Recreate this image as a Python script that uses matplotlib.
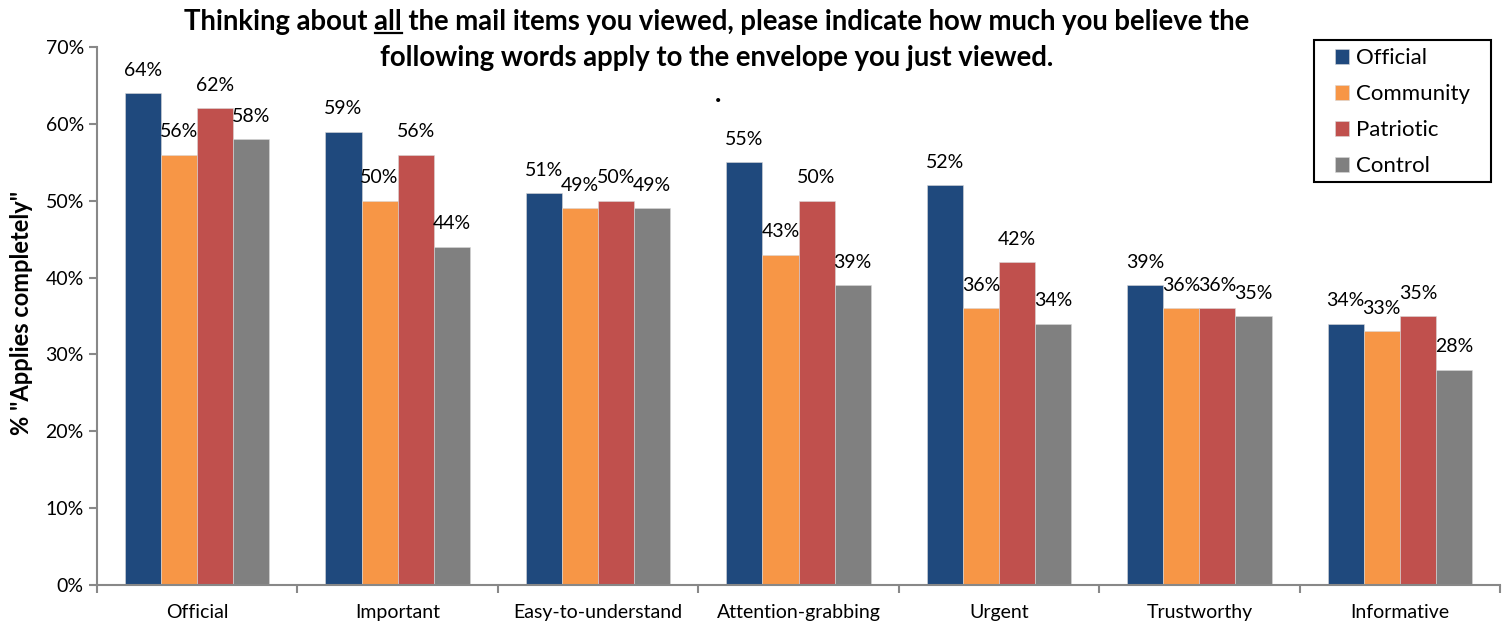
import matplotlib
matplotlib.use("Agg")
import matplotlib.pyplot as plt
import numpy as np
from matplotlib.lines import Line2D
from matplotlib.patches import Rectangle
from matplotlib.ticker import FixedLocator, PercentFormatter

categories = ["Official", "Important", "Easy-to-understand", "Attention-grabbing",
              "Urgent", "Trustworthy", "Informative"]
series_names = ["Official", "Community", "Patriotic", "Control"]
official = [64, 59, 51, 55, 52, 39, 34]
community = [56, 50, 49, 43, 36, 36, 33]
patriotic = [62, 56, 50, 50, 42, 36, 35]
control = [58, 44, 49, 39, 34, 35, 28]
colors = ["#1F497D", "#F79646", "#C0504D", "#808080"]

plt.rcParams['font.family'] = ['Lato', 'DejaVu Sans']

W, H = 1509, 625
fig = plt.figure(figsize=(W/100, H/100), dpi=100)
ax = fig.add_axes([97/W, 1 - 585/H, (1500 - 97)/W, (585 - 47)/H])

x = np.arange(len(categories))
bw = 0.18
all_series = [official, community, patriotic, control]
for i, (vals, name, c) in enumerate(zip(all_series, series_names, colors)):
    pos = x + (i - 1.5) * bw
    bars = ax.bar(pos, vals, bw, color=c, label=name, edgecolor='#d8d8d8', linewidth=0.4)
    for b, v in zip(bars, vals):
        ax.annotate(f"{v}%", (b.get_x() + b.get_width()/2, v), xytext=(0, 16.5),
                    textcoords='offset points', ha='center', va='center', fontsize=14)

ax.set_xlim(-0.5, len(categories) - 0.5)
ax.set_ylim(0, 70)
ax.set_yticks(np.arange(0, 71, 10))
ax.yaxis.set_major_formatter(PercentFormatter(decimals=0))
ax.set_xticks(x)
ax.set_xticklabels(categories, fontsize=14)
ax.xaxis.set_minor_locator(FixedLocator(np.arange(-0.5, len(categories), 1.0)))
ax.tick_params(axis='x', which='major', length=0, pad=14)
ax.tick_params(axis='x', which='minor', length=6, color='#888888', width=1.5, direction='out')
ax.tick_params(axis='y', length=6, color='#888888', width=1.5, labelsize=14, direction='out')
for s in ['top', 'right']:
    ax.spines[s].set_visible(False)
for s in ['left', 'bottom']:
    ax.spines[s].set_color('#888888')
    ax.spines[s].set_linewidth(1.5)

ax.set_ylabel('% "Applies completely"', fontsize=17, fontweight='bold')
ax.yaxis.set_label_coords(22/W, 0.5, transform=fig.transFigure)
ax.yaxis.label.set_va('center')

leg = ax.legend(loc='upper left', bbox_to_anchor=(1335/W, 1 - 48/H),
                bbox_transform=fig.transFigure, fontsize=16, frameon=False,
                handlelength=0.65, handleheight=0.65,
                labelspacing=0.72, borderpad=0, handletextpad=0.3, borderaxespad=0)
fig.add_artist(Rectangle((1314/W, 1 - 182/H), (1491 - 1314)/W, (182 - 40)/H,
                         transform=fig.transFigure, fill=False, edgecolor='black',
                         linewidth=1.5))

line1 = "Thinking about all the mail items you viewed, please indicate how much you believe the"
line2 = "following words apply to the envelope you just viewed."
tx = 717/W
tfs = 19.8
t1 = fig.text(tx, 1 - 22/H, line1, ha='center', va='center', fontsize=tfs, fontweight='bold')
fig.text(tx, 1 - 58/H, line2, ha='center', va='center', fontsize=tfs, fontweight='bold')
fig.text(718/W, 1 - 94/H, ".", ha='center', va='center', fontsize=tfs, fontweight='bold')

fig.canvas.draw()
r = fig.canvas.get_renderer()
bb = t1.get_window_extent(r)
tmp = fig.text(0, 0, "Thinking about all", fontsize=tfs, fontweight='bold')
w_pre_all = tmp.get_window_extent(r).width
tmp.set_text("all")
w_all = tmp.get_window_extent(r).width
tmp.remove()
x_end = bb.x0 + w_pre_all
x_start = x_end - w_all
y_line = bb.y0 + 2
fig.add_artist(Line2D([x_start / W, x_end / W], [y_line / H, y_line / H],
                      transform=fig.transFigure, color='black', linewidth=1.6))

fig.savefig("out.png", dpi=100)
